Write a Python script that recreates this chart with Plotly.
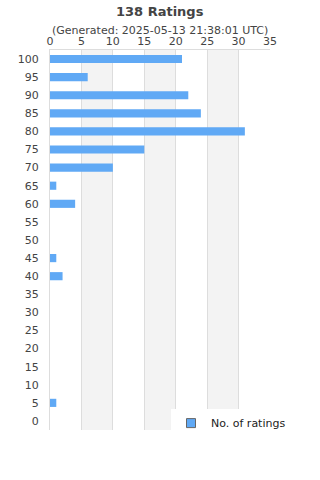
import plotly.graph_objects as go

ratings = [100, 95, 90, 85, 80, 75, 70, 65, 60, 55, 50, 45, 40, 35, 30, 25, 20, 15, 10, 5, 0]
counts = [21, 6, 22, 24, 31, 15, 10, 1, 4, 0, 0, 1, 2, 0, 0, 0, 0, 0, 0, 1, 0]
x_ticks = [0, 5, 10, 15, 20, 25, 30, 35]
title = "138 Ratings"
subtitle = "(Generated: 2025-05-13 21:38:01 UTC)"
series_name = "No. of ratings"

bar_color = "#60A9F5"
txt = "#444444"
font = "DejaVu Sans"

fig = go.Figure()
fig.add_trace(go.Bar(
    x=counts, y=ratings, orientation="h", width=2.25,
    marker=dict(color=bar_color, line=dict(width=0)),
    showlegend=False, hoverinfo="x+y",
))
fig.add_trace(go.Scatter(
    x=[None], y=[None], mode="markers", name=series_name,
    marker=dict(symbol="square", size=9, color=bar_color, line=dict(color="#666666", width=1)),
))

shapes = []
for a in (5, 15, 25):
    shapes.append(dict(type="rect", xref="x", yref="paper", x0=a, x1=a + 5, y0=0, y1=1,
                       fillcolor="#f3f3f3", line=dict(width=0), layer="below"))

fig.update_layout(
    width=320, height=480,
    margin=dict(l=50, r=50, t=50, b=50),
    paper_bgcolor="white", plot_bgcolor="white",
    font=dict(family=font, size=11, color=txt),
    shapes=shapes,
    showlegend=True,
    legend=dict(x=0.55, y=-0.02, xanchor="left", yanchor="bottom", bgcolor="white",
                font=dict(size=11, color="#222222"), itemwidth=30,
                tracegroupgap=0),
    annotations=[
        dict(text="<b>" + title + "</b>", xref="paper", yref="paper", x=0.5, y=(430 - 11) / 380,
             showarrow=False, font=dict(size=13, color=txt), yanchor="middle"),
        dict(text=subtitle, xref="paper", yref="paper", x=0.5, y=(430 - 30) / 380,
             showarrow=False, font=dict(size=11, color=txt), yanchor="middle"),
    ],
    xaxis=dict(side="top", range=[0, 35], tickvals=x_ticks, showgrid=True, gridcolor="#dddddd",
               gridwidth=1, zeroline=False, showline=True, linecolor="#dddddd", ticks="",
               tickfont=dict(size=11, color=txt), fixedrange=True),
    yaxis=dict(range=[-2.5, 102.5], tickvals=ratings, showgrid=False, zeroline=False,
               showline=True, linecolor="#dddddd", ticks="", ticklen=0,
               tickfont=dict(size=11, color=txt), fixedrange=True),
    bargap=0.5,
)
fig.update_yaxes(ticklabelstandoff=8)

fig.write_html("out.html")
